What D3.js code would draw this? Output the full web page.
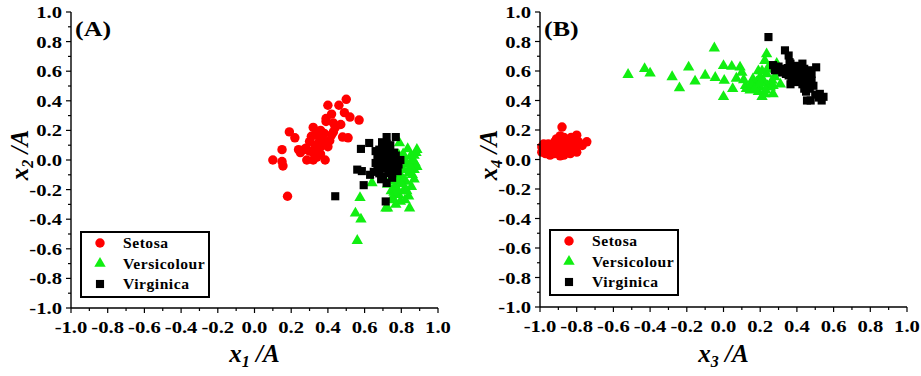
<!DOCTYPE html>
<html>
<head>
<meta charset="utf-8">
<script src="https://cdn.jsdelivr.net/npm/d3@7"></script>
<style>
  body { margin: 0; background: #fff; }
  text { font-family: "Liberation Serif", "Times New Roman", serif; font-weight: bold; }
</style>
</head>
<body>
<svg id="chart" width="921" height="376"></svg>
<script>
const seriesNames = ["Setosa", "Versicolour", "Virginica"];
const seriesColors = ["#ff0000", "#11ee11", "#000000"];
const majorTicks = [-1.0, -0.8, -0.6, -0.4, -0.2, 0.0, 0.2, 0.4, 0.6, 0.8, 1.0];
const tickLabels = ["-1.0", "-0.8", "-0.6", "-0.4", "-0.2", "0.0", "0.2", "0.4", "0.6", "0.8", "1.0"];
const minorTicks = [-0.9, -0.7, -0.5, -0.3, -0.1, 0.1, 0.3, 0.5, 0.7, 0.9];

// panel A : x1 vs x2
const setosaA = [
  [0.50,0.41],[0.40,0.37],[0.46,0.37],[0.49,0.32],[0.52,0.29],[0.57,0.27],[0.39,0.28],[0.42,0.31],
  [0.43,0.25],[0.47,0.24],[0.39,0.26],[0.32,0.22],[0.36,0.20],[0.19,0.19],[0.22,0.15],[0.31,0.16],
  [0.34,0.17],[0.38,0.18],[0.42,0.17],[0.48,0.155],[0.51,0.15],[0.37,0.14],[0.41,0.13],[0.33,0.10],
  [0.28,0.08],[0.24,0.07],[0.15,0.07],[0.25,0.05],[0.35,0.07],[0.32,0.05],[0.285,0.0],[0.32,0.0],
  [0.385,0.0],[0.10,0.0],[0.15,-0.01],[0.155,-0.04],[0.18,-0.245],[0.34,0.02],[0.36,0.09],[0.385,0.11],
  [0.30,0.125],[0.35,0.19],[0.43,0.19],[0.40,0.09],[0.27,0.07],[0.37,0.16],[0.35,0.12],[0.30,0.06],
  [0.44,0.22],[0.36,0.04]
];
const versicolourA = [
  [0.79,0.115],[0.835,0.075],[0.88,0.05],[0.885,0.07],[0.85,0.025],[0.875,-0.02],[0.83,-0.03],[0.87,-0.065],
  [0.81,-0.065],[0.84,-0.09],[0.795,-0.10],[0.87,-0.13],[0.825,-0.145],[0.775,-0.145],[0.725,-0.165],[0.765,-0.18],
  [0.82,-0.19],[0.64,-0.155],[0.745,-0.21],[0.785,-0.235],[0.84,-0.245],[0.76,-0.27],[0.795,-0.28],[0.77,-0.30],
  [0.725,-0.325],[0.845,-0.325],[0.716,-0.325],[0.575,-0.255],[0.55,-0.36],[0.58,-0.40],[0.56,-0.545],[0.82,-0.21],
  [0.855,-0.18],[0.80,-0.12],[0.885,-0.045],[0.85,-0.045],[0.785,0.035],[0.82,0.0],[0.81,0.04],[0.86,0.0],
  [0.79,-0.06],[0.76,-0.22],[0.80,-0.16],[0.83,-0.21],[0.75,-0.26],[0.86,-0.10],[0.78,-0.20],[0.74,-0.14],
  [0.82,-0.27],[0.87,0.03]
];
const virginicaA = [
  [0.72,0.155],[0.77,0.155],[0.625,0.115],[0.58,0.075],[0.695,0.12],[0.68,0.07],[0.72,0.08],[0.76,0.05],
  [0.67,0.025],[0.70,0.015],[0.74,0.0],[0.795,0.0],[0.66,-0.02],[0.69,-0.03],[0.72,-0.02],[0.77,-0.04],
  [0.56,-0.065],[0.585,-0.075],[0.63,-0.10],[0.68,-0.09],[0.73,-0.09],[0.78,-0.075],[0.69,-0.13],[0.72,-0.155],
  [0.595,-0.17],[0.44,-0.245],[0.715,-0.28],[0.685,0.045],[0.75,0.035],[0.71,-0.055],[0.75,-0.09],[0.67,-0.055],
  [0.785,-0.03],[0.705,0.09],[0.73,0.025],[0.70,0.05],[0.74,-0.06],[0.71,-0.01],[0.73,0.06],[0.68,-0.05],
  [0.76,-0.01],[0.72,0.11],[0.66,0.06],[0.75,-0.12],[0.70,-0.11],[0.77,0.03],[0.69,0.0],[0.74,0.10],
  [0.72,-0.04],[0.65,-0.08]
];

// panel B : x3 vs x4
const setosaB = [
  [-0.88,0.22],[-0.89,0.16],[-0.83,0.15],[-0.79,0.12],[-0.745,0.12],[-0.77,0.095],[-0.81,0.07],[-0.835,0.04],
  [-0.80,0.05],[-0.87,0.085],[-0.92,0.105],[-0.955,0.105],[-0.98,0.06],[-0.97,0.04],[-0.945,0.05],[-0.92,0.04],
  [-0.91,0.07],[-0.87,0.05],[-0.855,0.12],[-0.90,0.13],[-0.935,0.085],[-0.99,0.085],[-0.89,0.025],[-0.855,0.07],
  [-0.82,0.105],[-0.96,0.07],[-0.925,0.06],[-0.86,0.095],[-0.89,0.105],[-0.845,0.06],[-0.98,0.105],[-0.945,0.03],
  [-0.91,0.14],[-0.87,0.15],[-0.80,0.165],[-0.93,0.09],[-0.95,0.06],[-0.88,0.07],[-0.90,0.05],[-0.86,0.11],
  [-0.92,0.12],[-0.97,0.08],[-0.84,0.09],[-0.89,0.09],[-0.94,0.10],[-0.99,0.05],[-0.87,0.03],[-0.82,0.13],
  [-0.91,0.08],[-0.96,0.05]
];
const versicolourB = [
  [-0.52,0.575],[-0.43,0.615],[-0.40,0.585],[-0.28,0.56],[-0.24,0.485],[-0.19,0.625],[-0.155,0.53],[-0.10,0.57],
  [-0.05,0.755],[-0.045,0.555],[0.0,0.635],[0.004,0.535],[0.0,0.425],[0.05,0.48],[0.045,0.63],[0.09,0.625],
  [0.10,0.59],[0.12,0.50],[0.125,0.48],[0.145,0.47],[0.18,0.525],[0.19,0.60],[0.20,0.49],[0.21,0.425],
  [0.225,0.445],[0.235,0.715],[0.225,0.67],[0.235,0.58],[0.265,0.535],[0.27,0.445],[0.29,0.65],[0.31,0.51],
  [0.255,0.49],[0.20,0.56],[0.16,0.545],[0.07,0.55],[0.245,0.625],[0.21,0.60],[0.24,0.50],[0.19,0.46],
  [0.28,0.56],[0.15,0.51],[0.26,0.61],[0.22,0.53],[0.30,0.59],[0.11,0.54],[0.17,0.48],[0.23,0.47],
  [0.27,0.50],[0.20,0.52]
];
const virginicaB = [
  [0.245,0.83],[0.335,0.74],[0.355,0.705],[0.27,0.64],[0.28,0.605],[0.32,0.59],[0.365,0.65],[0.39,0.635],
  [0.43,0.65],[0.465,0.605],[0.505,0.625],[0.355,0.57],[0.38,0.56],[0.42,0.58],[0.455,0.57],[0.48,0.535],
  [0.365,0.51],[0.44,0.48],[0.47,0.48],[0.455,0.40],[0.475,0.40],[0.525,0.445],[0.535,0.40],[0.545,0.425],
  [0.40,0.525],[0.445,0.525],[0.31,0.615],[0.40,0.615],[0.44,0.615],[0.38,0.60],[0.35,0.62],[0.42,0.60],
  [0.44,0.56],[0.46,0.55],[0.39,0.58],[0.33,0.60],[0.41,0.55],[0.37,0.53],[0.47,0.52],[0.49,0.50],
  [0.30,0.63],[0.36,0.66],[0.43,0.51],[0.45,0.46],[0.50,0.44],[0.52,0.42],[0.40,0.63],[0.34,0.58],
  [0.48,0.58],[0.29,0.62]
];

const svg = d3.select("#chart");
const stretch = 1.18; // the source glyphs are wider than they are tall

const symbols = [
  d3.symbol(d3.symbolCircle, 70),
  d3.symbol(d3.symbolTriangle, 56),
  d3.symbol(d3.symbolSquare, 66)
];

function axisTitle(g, x, y, sub, rotate) {
  const t = g.append("text")
    .attr("transform", `translate(${x},${y})` + (rotate ? " rotate(-90)" : ""))
    .attr("text-anchor", "middle")
    .style("font-style", "italic")
    .style("font-size", "25px");
  t.append("tspan").text("x");
  t.append("tspan").attr("dy", 5).style("font-size", "16px").text(sub);
  t.append("tspan").attr("dy", -5).text(" /A");
}

function drawPanel(p) {
  const x = d3.scaleLinear().domain([-1, 1]).range([p.left, p.right]);
  const y = d3.scaleLinear().domain([-1, 1]).range([p.bottom, p.top]);
  const g = svg.append("g");

  // marks first, axes on top
  p.series.forEach((data, i) => {
    g.append("g").selectAll("path")
      .data(data)
      .join("path")
      .attr("transform", d => `translate(${x(d[0])},${y(d[1])})`)
      .attr("d", symbols[i])
      .attr("fill", seriesColors[i]);
  });

  // axis lines
  g.append("line").attr("x1", p.left).attr("x2", p.left).attr("y1", p.top).attr("y2", p.bottom)
    .attr("stroke", "#000").attr("stroke-width", 1.4);
  g.append("line").attr("x1", p.left).attr("x2", p.right).attr("y1", p.bottom).attr("y2", p.bottom)
    .attr("stroke", "#000").attr("stroke-width", 1.4);

  // ticks
  const tk = (vals, len) => {
    g.append("g").selectAll("line").data(vals).join("line")
      .attr("x1", p.left).attr("x2", p.left - len)
      .attr("y1", d => y(d)).attr("y2", d => y(d))
      .attr("stroke", "#000").attr("stroke-width", 1.2);
    g.append("g").selectAll("line").data(vals).join("line")
      .attr("y1", p.bottom).attr("y2", p.bottom + len)
      .attr("x1", d => x(d)).attr("x2", d => x(d))
      .attr("stroke", "#000").attr("stroke-width", 1.2);
  };
  tk(majorTicks, 5);
  tk(minorTicks, 3);

  // tick labels
  g.append("g").selectAll("text").data(majorTicks).join("text")
    .attr("transform", (d, i) => `translate(${p.left - 9},${y(d) + 6}) scale(${stretch},1)`)
    .attr("text-anchor", "end")
    .style("font-size", "17.5px")
    .text((d, i) => tickLabels[i]);
  g.append("g").selectAll("text").data(majorTicks).join("text")
    .attr("transform", (d, i) => `translate(${x(d)},${p.bottom + 25}) scale(${stretch},1)`)
    .attr("text-anchor", "middle")
    .style("font-size", "17.5px")
    .text((d, i) => tickLabels[i]);

  // panel letter
  g.append("text").attr("transform", `translate(${p.left + 4},${p.top + 24}) scale(${stretch},1)`)
    .style("font-size", "22px").text(p.tag);

  axisTitle(g, (p.left + p.right) / 2, 362, p.xSub, false);
  axisTitle(g, p.left - 43, 155, p.ySub, true);

  // legend
  const lg = g.append("g").attr("transform", `translate(${p.left + p.legX},${p.legY})`);
  lg.append("rect").attr("width", 128).attr("height", 65)
    .attr("fill", "#fff").attr("stroke", "#000").attr("stroke-width", 2);
  seriesNames.forEach((name, i) => {
    const cy = 11 + i * 20.5;
    lg.append("path").attr("transform", `translate(19,${cy})`)
      .attr("d", symbols[i]).attr("fill", seriesColors[i]);
    lg.append("text").attr("transform", `translate(42,${cy + 5}) scale(1.04,1)`)
      .style("font-size", "15px").style("letter-spacing", "0.5px").text(name);
  });
}

drawPanel({ left: 71, right: 438, top: 12, bottom: 308, tag: "(A)", xSub: "1", ySub: "2",
  legX: 10, legY: 232, series: [setosaA, versicolourA, virginicaA] });
drawPanel({ left: 540, right: 907, top: 12, bottom: 307, tag: "(B)", xSub: "3", ySub: "4",
  legX: 10, legY: 230, series: [setosaB, versicolourB, virginicaB] });
</script>
</body>
</html>
